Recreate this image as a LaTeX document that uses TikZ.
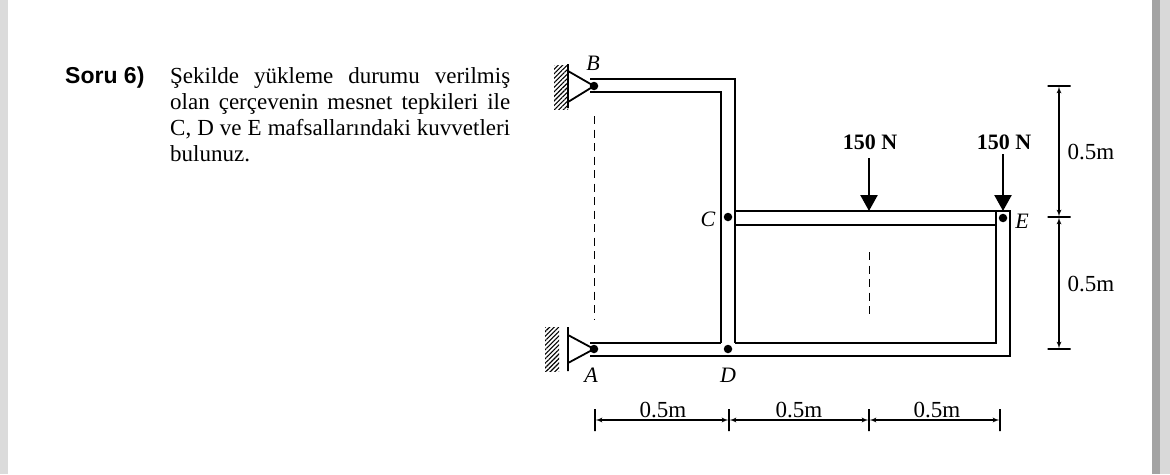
\documentclass[tikz,border=0pt]{standalone}
\usepackage{fontspec}
\setmainfont{Liberation Serif}
\newfontfamily\headfont{Liberation Sans}
\usetikzlibrary{arrows, arrows.meta, patterns, patterns.meta}
\tikzstyle{beam} = [draw, line width=1.7pt, line join=miter]
\tikzstyle{pin} = [circle, fill=black, inner sep=0pt, minimum size=8.5pt]
\tikzstyle{support} = [draw, line width=1.8pt, line join=round]
\tikzstyle{wall} = [rectangle, inner sep=0pt, minimum width=14pt, minimum height=44pt, pattern={Lines[angle=45,distance=3.2pt,line width=1.1pt]}]
\tikzstyle{wallline} = [rectangle, draw, line width=1.5pt, inner sep=0pt, minimum width=0pt, minimum height=44pt]
\tikzstyle{centerline} = [draw, line width=0.7pt, dash pattern=on 8pt off 5.5pt]
\tikzstyle{load} = [draw, line width=2.4pt, -{Triangle[length=16pt,width=17pt]}]
\tikzstyle{dim} = [draw, line width=1.3pt, latex'-latex']
\tikzstyle{vtick} = [rectangle, draw, line width=1.3pt, inner sep=0pt, minimum width=0pt, minimum height=22pt]
\tikzstyle{htick} = [rectangle, draw, line width=1.3pt, inner sep=0pt, minimum height=0pt, minimum width=23pt]
\tikzstyle{joint} = [font=\fontsize{22}{24}\selectfont\itshape, inner sep=0pt]
\tikzstyle{size} = [font=\fontsize{23}{25}\selectfont, inner sep=0pt]
\tikzstyle{force} = [font=\fontsize{22}{24}\selectfont\bfseries, inner sep=0pt]
\begin{document}
\begin{tikzpicture}[x=1pt,y=-1pt]
    \useasboundingbox (0,0) rectangle (1170,474);
    % Page edges
    \fill [black!14] (0,0) rectangle (8,474);
    \fill [black!36] (1152,0) rectangle (1160,474);
    \fill [black!15] (1160,0) rectangle (1170,474);
    % Place text
    \node [anchor=base west, inner sep=0pt, font=\headfont\bfseries\fontsize{23}{26}\selectfont] (title) at (65,83) {Soru 6)};
    \node [anchor=north west, inner sep=0pt, text width=340pt, align=justify, font=\fontsize{23}{26}\selectfont] (question) at (170,67) {Şekilde yükleme durumu verilmiş\linebreak olan çerçevenin mesnet tepkileri ile\linebreak C, D ve E mafsallarındaki kuvvetleri\linebreak bulunuz.};
    % Place nodes
    \node [pin] (B) at (594,86) {};
    \node [pin] (A) at (594,349) {};
    \node [pin] (C) at (728,217) {};
    \node [pin] (D) at (728,349) {};
    \node [pin] (E) at (1003,218) {};
    \node [joint] (lblB) at (593,63) {B};
    \node [joint] (lblA) at (591,375) {A};
    \node [joint] (lblC) at (708,219) {C};
    \node [joint] (lblD) at (728,375) {D};
    \node [joint] (lblE) at (1022,221) {E};
    \node [wall] (wallB) at (561,87) {};
    \node [wallline] (lineB) at (568,86) {};
    \node [wall] (wallA) at (552,349) {};
    \node [wallline] (lineA) at (568,349) {};
    \coordinate (triBt) at (568,71);
    \coordinate (triBb) at (568,102);
    \coordinate (triAt) at (568,335);
    \coordinate (triAb) at (568,363);
    % Frame corners
    \coordinate (p1) at (590,79);
    \coordinate (p2) at (735,79);
    \coordinate (p3) at (735,343);
    \coordinate (p4) at (590,92);
    \coordinate (p5) at (721,92);
    \coordinate (p6) at (721,343);
    \coordinate (p7) at (590,343);
    \coordinate (p8) at (590,356);
    \coordinate (p9) at (1010,356);
    \coordinate (p10) at (1010,211);
    \coordinate (p11) at (735,211);
    \coordinate (p12) at (735,225);
    \coordinate (p13) at (996,225);
    \coordinate (p14) at (996,343);
    \coordinate (p15) at (996,211);
    % Loads
    \node [force] (f1) at (870,142) {150 N};
    \node [force] (f2) at (1004,142) {150 N};
    \coordinate (f1top) at (869,158);
    \coordinate (f2top) at (1003,154);
    \coordinate (f1end) at (869,211);
    \coordinate (f2end) at (1003,211);
    % Dashed lines
    \coordinate (c1) at (594,116);
    \coordinate (c2) at (594,320);
    \coordinate (c3) at (869,252);
    \coordinate (c4) at (869,316);
    % Dimension ticks
    \node [vtick] (t1) at (595,420) {};
    \node [vtick] (t2) at (729,420) {};
    \node [vtick] (t3) at (869,420) {};
    \node [vtick] (t4) at (1000,420) {};
    \node [htick] (r1) at (1059,86) {};
    \node [htick] (r2) at (1059,217) {};
    \node [htick] (r3) at (1059,349) {};
    \node [size] (w1) at (663,410) {0.5m};
    \node [size] (w2) at (799,410) {0.5m};
    \node [size] (w3) at (937,410) {0.5m};
    \node [size] (h1) at (1091,152) {0.5m};
    \node [size] (h2) at (1091,284) {0.5m};
    % Draw edges
    \path [beam] (p1) -- (p2) -- (p3);
    \path [beam] (p4) -- (p5) -- (p6);
    \path [beam] (p7) -- (p6);
    \path [beam] (p3) -- (p14) -- (p13) -- (p12);
    \path [beam] (p8) -- (p9) -- (p10) -- (p11);
    \path [beam] (p13) -- (p15);
    \path [support] (triBt) -- (B.center) -- (triBb);
    \path [support] (triAt) -- (A.center) -- (triAb);
    \path [centerline] (c1) -- (c2);
    \path [centerline] (c3) -- (c4);
    \path [load] (f1top) -- (f1end);
    \path [load] (f2top) -- (f2end);
    \path [dim] (t1) -- (t2);
    \path [dim] (t2) -- (t3);
    \path [dim] (t3) -- (t4);
    \path [dim] (r1) -- (r2);
    \path [dim] (r2) -- (r3);
\end{tikzpicture}
\end{document}
